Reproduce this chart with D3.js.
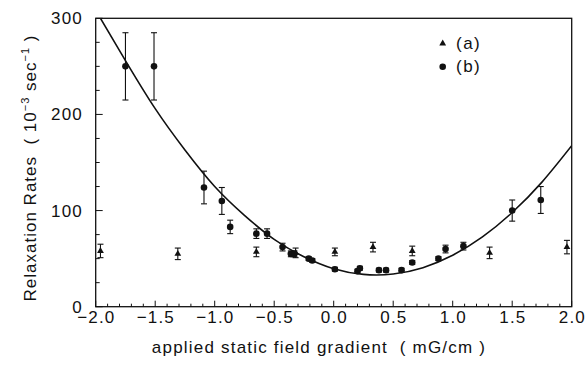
<!DOCTYPE html>
<html><head><meta charset="utf-8">
<script src="https://cdn.jsdelivr.net/npm/d3@7/dist/d3.min.js"></script>
<style>
body{margin:0;background:#fff;}
text{font-family:"Liberation Sans",Arial,sans-serif;fill:#111;}
</style></head>
<body><svg id="c" width="587" height="368"></svg>
<script>
// series (a): triangles
const xA = [-1.96, -1.31, -0.65, -0.32, 0.01, 0.33, 0.66, 1.31, 1.96];
const yA = [58, 55, 57, 56, 57, 62, 58, 56, 62];
const eA = [7, 6, 5, 5, 4, 5, 5, 6, 7];
// series (b): circles
const xB = [-1.75, -1.51, -1.09, -0.94, -0.87, -0.65, -0.56, -0.43, -0.36, -0.33, -0.21, -0.18, 0.01, 0.20, 0.22, 0.38, 0.44, 0.57, 0.66, 0.88, 0.94, 1.09, 1.50, 1.74];
const yB = [250, 250, 124, 110, 83, 76, 76, 62, 55, 55, 50, 48, 39, 37, 40, 38, 38, 38, 46, 50, 60, 63, 100, 111];
const eB = [35, 35, 17, 14, 7, 5, 5, 4, 3, 3, 2, 2, 2, 2, 2, 2, 2, 2, 2, 2, 4, 4, 11, 14];
// fitted curve
const fitX = [-1.96, -1.75, -1.5, -1.25, -1.0, -0.75, -0.5, -0.25, 0, 0.25, 0.5, 0.75, 1.0, 1.25, 1.5, 1.75, 2.0];
const fitY = [300, 256, 206, 163, 125, 95, 70, 52, 39.5, 33.6, 34, 40.6, 53.5, 72.6, 98, 129.6, 167.5];
// ticks
const xTicks = [-2.0, -1.5, -1.0, -0.5, 0.0, 0.5, 1.0, 1.5, 2.0];
const yTicks = [0, 100, 200, 300];

const svg = d3.select("#c");
const L = 95.7, R = 571.7, T = 18.3, B = 306.7;
const x = d3.scaleLinear().domain([-2, 2]).range([L, R]);
const y = d3.scaleLinear().domain([0, 300]).range([B, T]);

// frame
svg.append("rect").attr("x", L).attr("y", T).attr("width", R - L).attr("height", B - T)
  .attr("fill", "none").attr("stroke", "#111").attr("stroke-width", 1.3);

// x axis ticks (inside)
const xMinor = d3.range(-20, 21).map(d => d / 10);
svg.append("g").selectAll("line").data(xMinor).join("line")
  .attr("x1", d => x(d)).attr("x2", d => x(d))
  .attr("y1", B).attr("y2", d => Math.abs(Math.round(d * 10) % 5) === 0 ? B - 6 : B - 3)
  .attr("stroke", "#111").attr("stroke-width", 1);
svg.append("g").selectAll("text").data(xTicks).join("text")
  .attr("x", d => x(d) + 0.6).attr("y", 323).attr("text-anchor", "middle")
  .attr("font-size", 17).attr("letter-spacing", 1.1)
  .text(d => (d < 0 ? "\u2212" : "") + Math.abs(d).toFixed(1));

// y axis ticks
const yMinor = d3.range(0, 301, 25);
svg.append("g").selectAll("line").data(yMinor).join("line")
  .attr("x1", L).attr("x2", d => d % 100 === 0 ? L + 7 : L + 4)
  .attr("y1", d => y(d)).attr("y2", d => y(d))
  .attr("stroke", "#111").attr("stroke-width", 1);
svg.append("g").selectAll("text").data(yTicks).join("text")
  .attr("x", 83).attr("y", d => y(d) + 6).attr("text-anchor", "end")
  .attr("font-size", 17).attr("letter-spacing", 1.2).text(d => d);

// fit curve
const line = d3.line().x((d, i) => x(fitX[i])).y((d, i) => y(fitY[i])).curve(d3.curveNatural);
svg.append("defs").append("clipPath").attr("id", "clip").append("rect")
  .attr("x", L).attr("y", T).attr("width", R - L).attr("height", B - T);
svg.append("path").datum(fitY).attr("d", line).attr("fill", "none")
  .attr("stroke", "#111").attr("stroke-width", 1.6).attr("clip-path", "url(#clip)");

// error bars
function errbars(xs, ys, es) {
  const g = svg.append("g").attr("stroke", "#111").attr("stroke-width", 1.1);
  xs.forEach((xv, i) => {
    const cx = x(xv), t = y(ys[i] + es[i]), b = y(ys[i] - es[i]);
    g.append("line").attr("x1", cx).attr("x2", cx).attr("y1", t).attr("y2", b);
    g.append("line").attr("x1", cx - 3).attr("x2", cx + 3).attr("y1", t).attr("y2", t);
    g.append("line").attr("x1", cx - 3).attr("x2", cx + 3).attr("y1", b).attr("y2", b);
  });
}
errbars(xA, yA, eA);
errbars(xB, yB, eB);

const tri = d3.symbol().type(d3.symbolTriangle).size(20);
svg.append("g").selectAll("path").data(xA).join("path")
  .attr("transform", (d, i) => `translate(${x(d)},${y(yA[i])})`)
  .attr("d", tri).attr("fill", "#111");
svg.append("g").selectAll("circle").data(xB).join("circle")
  .attr("cx", d => x(d)).attr("cy", (d, i) => y(yB[i])).attr("r", 3.3).attr("fill", "#111");

// legend
svg.append("path").attr("transform", "translate(442.7,43.5)").attr("d", tri).attr("fill", "#111");
svg.append("text").attr("x", 456).attr("y", 49).attr("font-size", 17).attr("letter-spacing", 1.5).text("(a)");
svg.append("circle").attr("cx", 442.7).attr("cy", 66.7).attr("r", 3.3).attr("fill", "#111");
svg.append("text").attr("x", 456).attr("y", 72).attr("font-size", 17).attr("letter-spacing", 1.5).text("(b)");

// axis titles
svg.append("text").attr("x", 319).attr("y", 353).attr("text-anchor", "middle")
  .attr("font-size", 17).attr("letter-spacing", 1.2).attr("xml:space", "preserve")
  .text("applied static field gradient  ( mG/cm )");
const yl = svg.append("text").attr("transform", "translate(36,168) rotate(-90)")
  .attr("text-anchor", "middle").attr("font-size", 17).attr("letter-spacing", 1)
  .attr("xml:space", "preserve");
yl.append("tspan").text("Relaxation Rates  ( 10");
yl.append("tspan").attr("dy", -7).attr("font-size", 11).text("\u22123");
yl.append("tspan").attr("dy", 7).text(" sec");
yl.append("tspan").attr("dy", -7).attr("font-size", 11).text("\u22121");
yl.append("tspan").attr("dy", 7).text(" )");
</script></body></html>
